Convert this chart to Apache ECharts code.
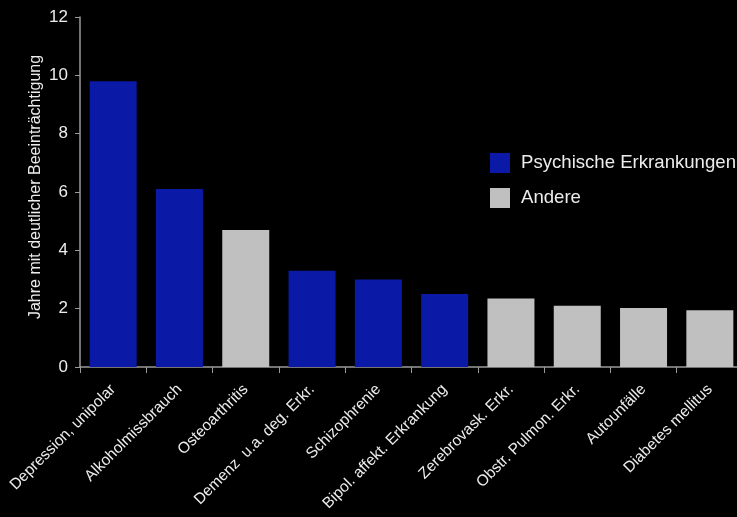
<!DOCTYPE html>
<html><head><meta charset="utf-8">
<script src="https://cdn.jsdelivr.net/npm/echarts@6/dist/echarts.min.js"></script>
<style>html,body{margin:0;padding:0;background:#000;}#c{width:737px;height:517px;}</style>
</head><body><div id="c"></div>
<script>
var categories = ['Depression, unipolar','Alkoholmissbrauch','Osteoarthritis','Demenz  u.a. deg. Erkr.','Schizophrenie','Bipol. affekt. Erkrankung','Zerebrovask. Erkr.','Obstr. Pulmon. Erkr.','Autounfälle','Diabetes mellitus'];
var values = [9.8, 6.1, 4.7, 3.3, 3.0, 2.5, 2.35, 2.1, 2.02, 1.95];
var groups = ['P','P','A','P','P','P','A','A','A','A'];
var seriesNames = ['Psychische Erkrankungen','Andere'];
var yTicks = [0, 2, 4, 6, 8, 10, 12];

var psych = values.map(function(v,i){return groups[i]==='P'?v:null;});
var other = values.map(function(v,i){return groups[i]==='A'?v:null;});
var txt = '#ececec', axisCol = '#9a9a9a', font = 'Liberation Sans, Arial, sans-serif';
var chart = echarts.init(document.getElementById('c'));
chart.setOption({
  backgroundColor: '#000',
  animation: false,
  textStyle: {fontFamily: font},
  grid: {left: 80, top: 17, right: -6, bottom: 150, containLabel: false, outerBoundsMode: 'none'},
  legend: {
    orient: 'vertical', left: 490, top: 153, padding: 0, itemWidth: 20, itemHeight: 20, itemGap: 15,
    icon: 'rect',
    textStyle: {color: txt, fontSize: 18.6, fontFamily: font, padding: [0, 0, 0, 6]},
    data: seriesNames
  },
  xAxis: {
    type: 'category', data: categories,
    axisLine: {lineStyle: {color: axisCol, width: 1.5}},
    axisTick: {show: true, length: 6, lineStyle: {color: axisCol}},
    axisLabel: {rotate: 45, color: txt, fontSize: 15.5, margin: 20, interval: 0, fontFamily: font}
  },
  yAxis: {
    type: 'value', min: yTicks[0], max: yTicks[yTicks.length-1], interval: 2,
    name: 'Jahre mit deutlicher Beeinträchtigung', nameLocation: 'middle', nameGap: 36, nameMoveOverlap: false,
    nameTextStyle: {color: txt, fontSize: 16, fontFamily: font, padding: [0, 0, 0, 10]},
    splitLine: {show: false},
    axisLine: {show: true, lineStyle: {color: axisCol, width: 1.5}},
    axisTick: {show: true, length: 5, lineStyle: {color: axisCol}},
    axisLabel: {color: txt, fontSize: 17, margin: 12, fontFamily: font}
  },
  series: [
    {name: seriesNames[0], type: 'bar', data: psych, barWidth: 47, barGap: '-100%', itemStyle: {color: '#0a1aa6'}},
    {name: seriesNames[1], type: 'bar', data: other, barWidth: 47, barGap: '-100%', itemStyle: {color: '#c0c0c0'}}
  ]
});
</script></body></html>
